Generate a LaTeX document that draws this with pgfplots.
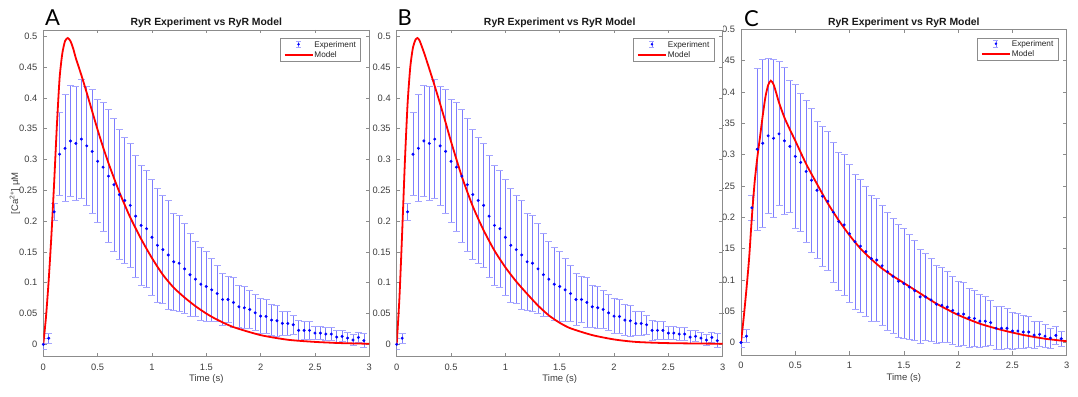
\documentclass[border=0pt]{standalone}
\usepackage{pgfplots}
\pgfplotsset{compat=1.18}
\usepackage{pgfplotstable}
\usepackage{fontspec}
\setmainfont{Liberation Sans}
\newfontfamily\letterfont{Lato}

\definecolor{errbar}{RGB}{125,125,255}
\definecolor{errcap}{RGB}{165,165,255}
\definecolor{axgray}{RGB}{140,140,140}
\definecolor{txtgray}{RGB}{60,60,60}

\pgfplotstableread{
t m eA eC
0 0 0.009 0.008
0.05 0.010 0.008 0.010
0.10 0.215 0.014 0.020
0.15 0.3085 0.067 0.129
0.20 0.318 0.087 0.134
0.25 0.330 0.090 0.124
0.30 0.326 0.092 0.126
0.35 0.333 0.097 0.115
0.40 0.322 0.096 0.117
0.45 0.313 0.100 0.106
0.50 0.297 0.100 0.115
0.55 0.2875 0.105 0.110
0.60 0.273 0.108 0.113
0.65 0.259 0.108 0.115
0.70 0.243 0.105 0.109
0.75 0.2335 0.102 0.112
0.80 0.2255 0.100 0.111
0.85 0.208 0.099 0.112
0.90 0.193 0.097 0.110
0.95 0.1877 0.095 0.112
1.00 0.1737 0.094 0.110
1.05 0.1607 0.092 0.108
1.10 0.1537 0.087 0.106
1.15 0.145 0.088 0.104
1.20 0.134 0.079 0.100
1.25 0.1316 0.078 0.098
1.30 0.1225 0.073 0.096
1.35 0.113 0.067 0.094
1.40 0.1057 0.061 0.092
1.45 0.0976 0.059 0.090
1.50 0.0939 0.057 0.088
1.55 0.0885 0.051 0.084
1.60 0.0825 0.046 0.080
1.65 0.0728 0.042 0.075
1.70 0.0728 0.037 0.070
1.75 0.068 0.041 0.066
1.80 0.061 0.034 0.062
1.85 0.0594 0.034 0.060
1.90 0.0566 0.031 0.057
1.95 0.0512 0.029 0.054
2.00 0.0458 0.028 0.052
2.05 0.0453 0.027 0.050
2.10 0.0394 0.025 0.047
2.15 0.0383 0.025 0.045
2.20 0.034 0.020 0.042
2.25 0.034 0.019 0.040
2.30 0.0318 0.015 0.036
2.35 0.0227 0.016 0.034
2.40 0.0227 0.014 0.034
2.45 0.0227 0.014 0.032
2.50 0.0183 0.011 0.030
2.55 0.0183 0.011 0.028
2.60 0.0167 0.011 0.026
2.65 0.0167 0.010 0.024
2.70 0.0118 0.010 0.022
2.75 0.013 0.009 0.020
2.80 0.0102 0.009 0.018
2.85 0.007 0.009 0.016
2.90 0.0113 0.008 0.014
2.95 0.006 0.011 0.012
}\expdata

\pgfplotstableread{
t y
0 0
0.025 0.045
0.05 0.105
0.075 0.178
0.10 0.263
0.125 0.355
0.15 0.432
0.175 0.472
0.20 0.492
0.225 0.497
0.25 0.492
0.275 0.480
0.30 0.464
0.35 0.437
0.40 0.408
0.45 0.378
0.50 0.348
0.55 0.320
0.60 0.294
0.65 0.270
0.70 0.247
0.75 0.226
0.80 0.206
0.90 0.171
1.00 0.140
1.10 0.113
1.20 0.092
1.30 0.076
1.40 0.062
1.50 0.050
1.60 0.040
1.75 0.028
2.00 0.015
2.25 0.0075
2.50 0.004
2.75 0.002
3.00 0.001
}\modelA

\pgfplotstableread{
t y
0 0
0.025 0.075
0.05 0.180
0.075 0.295
0.10 0.390
0.125 0.450
0.15 0.482
0.175 0.495
0.19 0.497
0.21 0.493
0.25 0.474
0.30 0.447
0.35 0.419
0.40 0.390
0.45 0.360
0.50 0.329
0.60 0.272
0.70 0.224
0.80 0.185
0.90 0.152
1.00 0.125
1.10 0.102
1.20 0.082
1.30 0.063
1.40 0.047
1.50 0.035
1.60 0.026
1.80 0.015
2.00 0.008
2.20 0.004
2.50 0.002
3.00 0.001
}\modelB

\pgfplotstableread{
t y
0 0
0.025 0.040
0.05 0.085
0.075 0.135
0.10 0.200
0.125 0.255
0.15 0.295
0.175 0.328
0.20 0.362
0.225 0.392
0.25 0.411
0.275 0.418
0.30 0.412
0.325 0.398
0.35 0.383
0.40 0.359
0.45 0.340
0.50 0.322
0.60 0.285
0.70 0.253
0.80 0.222
0.90 0.195
1.00 0.171
1.10 0.150
1.20 0.133
1.30 0.118
1.40 0.106
1.50 0.095
1.60 0.084
1.80 0.062
2.00 0.044
2.20 0.030
2.40 0.020
2.60 0.012
2.80 0.006
3.00 0.002
}\modelC

\pgfplotsset{
  panel/.style={
    scale only axis, width=326pt, height=326.7pt,
    xmin=0, xmax=3, ymin=-0.02, ymax=0.51,
    xtick={0,0.5,1,1.5,2,2.5,3},
    xticklabels={0,0.5,1,1.5,2,2.5,3},
    ytick={0,0.05,0.1,0.15,0.2,0.25,0.3,0.35,0.4,0.45,0.5},
    yticklabels={0,0.05,0.1,0.15,0.2,0.25,0.3,0.35,0.4,0.45,0.5},
    tick align=inside, major tick length=3.5pt,
    axis line style={axgray, line width=0.6pt},
    every tick/.style={axgray, line width=0.6pt},
    tick label style={txtgray, font=\fontsize{9.3}{10}\selectfont},
    xticklabel style={yshift=-3.5pt},
    yticklabel style={xshift=-2.5pt},
    title={RyR Experiment vs RyR Model},
    title style={font=\bfseries\fontsize{10.4}{12}\selectfont, text=black!90, at={(0.5,1)}, anchor=base, yshift=-2pt},
    xlabel={Time (s)},
    xlabel style={font=\fontsize{9.5}{11}\selectfont, text=txtgray, at={(0.5,0)}, anchor=base, yshift=-25pt},
    legend style={at={(1,1)}, anchor=north east, xshift=-8.6pt, yshift=-8.3pt,
      draw=axgray, line width=0.6pt, font=\fontsize{8.2}{9}\selectfont, text=black!85,
      inner xsep=3.5pt, inner ysep=1.5pt, nodes={inner sep=1pt, anchor=base west}, row sep=1pt},
    legend cell align=left,
  },
  explegend/.style={legend image code/.code={
    \path[draw=none, fill=none] (0pt,-1.5pt) rectangle (28pt,6.5pt);
    \draw[errbar, line width=0.7pt] (14pt,-0.6pt) -- (14pt,6pt);
    \draw[errcap, line width=0.8pt] (11.5pt,-0.6pt) -- (16.5pt,-0.6pt) (11.5pt,6pt) -- (16.5pt,6pt);
    \fill[blue] (14pt,2.7pt) circle (0.9pt);}},
  expstyle/.style={only marks, mark=*, mark size=1.3pt, color=blue, mark options={blue},
    error bars/.cd, y dir=both, y explicit,
    error bar style={errbar, line width=0.7pt},
    error mark options={errcap, line width=1pt, mark size=3.5pt, rotate=90}},
  modstyle/.style={red, line width=1.8pt, smooth, tension=0.4,
    legend image code/.code={
      \path[draw=none, fill=none] (0pt,-1.5pt) rectangle (28pt,6.5pt);
      \draw[red, line width=1.8pt] (0pt,2.7pt) -- (28pt,2.7pt);}},
}

\begin{document}
\begin{tikzpicture}
% Panel C
\begin{axis}[panel, at={(741pt,41pt)}, anchor=south west, width=325.7pt, height=325.7pt, ymax=0.5]
\addplot[explegend, expstyle] table[x=t, y=m, y error=eC] {\expdata};
\addlegendentry{Experiment}
\addplot[modstyle] table[x=t, y=y] {\modelC};
\addlegendentry{Model}
\end{axis}
% white background of panel B covering part of C's labels
\fill[white] (690pt,0pt) rectangle (723pt,396pt);
% Panel B
\begin{axis}[panel, at={(396.7pt,39.3pt)}, anchor=south west]
\addplot[explegend, expstyle] table[x=t, y=m, y error=eA] {\expdata};
\addlegendentry{Experiment}
\addplot[modstyle] table[x=t, y=y] {\modelB};
\addlegendentry{Model}
\end{axis}
% Panel A
\begin{axis}[panel, at={(43.3pt,39.3pt)}, anchor=south west,
  ylabel={[Ca\textsuperscript{2+}] μM},
  ylabel style={font=\fontsize{9.5}{11}\selectfont, text=txtgray, at={(-0.087,0.5)}, anchor=center}]
\addplot[explegend, expstyle] table[x=t, y=m, y error=eA] {\expdata};
\addlegendentry{Experiment}
\addplot[modstyle] table[x=t, y=y] {\modelA};
\addlegendentry{Model}
\end{axis}
\node[anchor=base west, inner sep=0pt, font=\letterfont\fontsize{22}{22}\selectfont] at (45pt,370pt) {A};
\node[anchor=base west, inner sep=0pt, font=\letterfont\fontsize{22}{22}\selectfont] at (397.5pt,370pt) {B};
\node[anchor=base west, inner sep=0pt, font=\letterfont\fontsize{22}{22}\selectfont] at (744pt,369pt) {C};
\pgfresetboundingbox
\path[use as bounding box] (0pt,0pt) rectangle (1078pt,396pt);
\end{tikzpicture}
\end{document}
